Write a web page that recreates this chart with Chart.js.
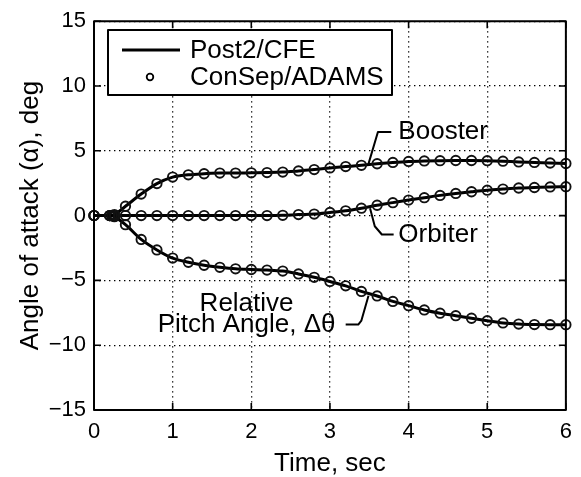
<!DOCTYPE html>
<html>
<head>
<meta charset="utf-8">
<script src="https://cdn.jsdelivr.net/npm/chart.js@4.4.0/dist/chart.umd.min.js"></script>
<style>
html,body{margin:0;padding:0;background:#fff;}
canvas{display:block;}
</style>
</head>
<body>
<canvas id="c" width="581" height="477"></canvas>
<script>
// ---- data ----
const timeSec = [0, 0.2, 0.23, 0.26, 0.4, 0.6, 0.8, 1.0, 1.2, 1.4, 1.6, 1.8, 2.0, 2.2, 2.4, 2.6, 2.8, 3.0, 3.2, 3.4, 3.6, 3.8, 4.0, 4.2, 4.4, 4.6, 4.8, 5.0, 5.2, 5.4, 5.6, 5.8, 6.0];
const booster = [0, 0, 0.02, 0.08, 0.72, 1.66, 2.47, 2.97, 3.15, 3.23, 3.28, 3.28, 3.30, 3.32, 3.36, 3.45, 3.55, 3.68, 3.78, 3.88, 4.0, 4.1, 4.18, 4.22, 4.24, 4.25, 4.25, 4.24, 4.2, 4.14, 4.1, 4.06, 4.02];
const orbiter = [0, 0, 0, 0, 0, 0, 0, 0, 0, 0, 0, 0, 0, 0, 0.02, 0.08, 0.12, 0.24, 0.37, 0.57, 0.8, 1.0, 1.2, 1.38, 1.56, 1.71, 1.84, 1.96, 2.05, 2.13, 2.17, 2.21, 2.23];
const relPitch = [0, 0, -0.02, -0.08, -0.70, -1.84, -2.65, -3.28, -3.6, -3.83, -3.99, -4.11, -4.16, -4.2, -4.28, -4.5, -4.76, -5.08, -5.42, -5.85, -6.2, -6.62, -6.95, -7.28, -7.53, -7.72, -7.92, -8.11, -8.28, -8.37, -8.41, -8.42, -8.42];
const seriesNames = ['Booster', 'Orbiter', 'Relative Pitch Angle, \u0394\u03b8'];
const legendLabels = ['Post2/CFE', 'ConSep/ADAMS'];
const xTicks = [0, 1, 2, 3, 4, 5, 6];
const yTicks = [-15, -10, -5, 0, 5, 10, 15];
const xTitle = 'Time, sec';
const yTitle = 'Angle of attack (\u03b1), deg';

// annotation labels (anchored in data coordinates)
const annotations = [
  { lines: [{ text: 'Booster', x: 3.87, y: 6.5 }], align: 'left',
    leader: [[3.49, 3.99], [3.61, 6.45], [3.78, 6.45]] },
  { lines: [{ text: 'Orbiter', x: 3.87, y: -1.46 }], align: 'left',
    leader: [[3.51, 0.57], [3.57, -0.82], [3.66, -1.46], [3.81, -1.46]] },
  { lines: [{ text: 'Relative', x: 1.94, y: -6.8 }, { text: 'Pitch Angle, \u0394\u03b8', x: 1.94, y: -8.41 }], align: 'center',
    leader: [[3.49, -6.19], [3.40, -8.1], [3.36, -8.41], [3.2, -8.41]] }
];

const FONT = "'Liberation Sans', Arial, Helvetica, sans-serif";
Chart.defaults.font.family = FONT;
Chart.defaults.color = '#000';

const toXY = (vals) => timeSec.map((t, i) => ({ x: t, y: vals[i] }));
const allSeries = [booster, orbiter, relPitch];

const datasets = [];
allSeries.forEach((vals, k) => {
  datasets.push({
    label: legendLabels[0] + ' ' + seriesNames[k],
    data: toXY(vals),
    showLine: true,
    borderColor: '#000',
    borderWidth: 3,
    pointRadius: 0,
    cubicInterpolationMode: 'monotone',
    fill: false,
    order: 2
  });
  datasets.push({
    label: legendLabels[1] + ' ' + seriesNames[k],
    data: toXY(vals),
    showLine: false,
    pointStyle: 'circle',
    pointRadius: 4.7,
    pointBorderWidth: 1.9,
    pointBorderColor: '#111',
    pointBackgroundColor: 'rgba(0,0,0,0)',
    clip: false,
    order: 1
  });
});

const decorPlugin = {
  id: 'decor',
  afterDraw(chart) {
    const { ctx, chartArea: a, scales } = chart;
    const xs = scales.x, ys = scales.y;
    ctx.save();
    // annotations
    ctx.strokeStyle = '#000';
    ctx.fillStyle = '#000';
    ctx.lineWidth = 2;
    ctx.lineJoin = 'round';
    ctx.font = '26px ' + FONT;
    ctx.textBaseline = 'middle';
    annotations.forEach(an => {
      ctx.beginPath();
      an.leader.forEach((p, i) => {
        const px = xs.getPixelForValue(p[0]), py = ys.getPixelForValue(p[1]);
        if (i === 0) ctx.moveTo(px, py); else ctx.lineTo(px, py);
      });
      ctx.stroke();
      ctx.textAlign = an.align;
      an.lines.forEach(l => {
        ctx.fillText(l.text, xs.getPixelForValue(l.x), ys.getPixelForValue(l.y));
      });
    });
    // frame
    ctx.lineWidth = 2;
    ctx.strokeRect(a.left, a.top, a.right - a.left, a.bottom - a.top);
    // inward ticks
    const tl = 7;
    ctx.lineWidth = 1.6;
    ctx.beginPath();
    xTicks.forEach(v => {
      const px = xs.getPixelForValue(v);
      ctx.moveTo(px, a.bottom); ctx.lineTo(px, a.bottom - tl);
      ctx.moveTo(px, a.top); ctx.lineTo(px, a.top + tl);
    });
    yTicks.forEach(v => {
      const py = ys.getPixelForValue(v);
      ctx.moveTo(a.left, py); ctx.lineTo(a.left + tl, py);
      ctx.moveTo(a.right, py); ctx.lineTo(a.right - tl, py);
    });
    ctx.stroke();
    // legend
    const bx = 108, by = 30, bw = 284, bh = 65;
    ctx.fillStyle = '#fff';
    ctx.fillRect(bx, by, bw, bh);
    ctx.lineWidth = 2;
    ctx.strokeStyle = '#000';
    ctx.strokeRect(bx, by, bw, bh);
    ctx.lineWidth = 3;
    ctx.beginPath();
    ctx.moveTo(122, 50); ctx.lineTo(180, 50);
    ctx.stroke();
    ctx.lineWidth = 1.8;
    ctx.beginPath();
    ctx.arc(150, 77, 3.3, 0, Math.PI * 2);
    ctx.stroke();
    ctx.fillStyle = '#000';
    ctx.textAlign = 'left';
    ctx.textBaseline = 'middle';
    ctx.font = '26px ' + FONT;
    ctx.fillText(legendLabels[0], 190, 51);
    ctx.fillText(legendLabels[1], 190, 78);
    ctx.restore();
  }
};

new Chart(document.getElementById('c'), {
  type: 'scatter',
  data: { datasets },
  options: {
    responsive: false,
    animation: false,
    devicePixelRatio: 1,
    layout: { padding: { left: 0, right: 13, top: 15, bottom: 0 } },
    plugins: { legend: { display: false }, tooltip: { enabled: false } },
    scales: {
      x: {
        type: 'linear', min: 0, max: 6,
        afterBuildTicks: (s) => { s.ticks = xTicks.map(v => ({ value: v })); },
        ticks: { padding: 9, font: { size: 22 }, color: '#000', maxRotation: 0,
                 callback: (v) => String(v) },
        grid: { color: '#000', lineWidth: 1.3, drawTicks: false },
        border: { display: false, dash: [1.4, 3.6] },
        title: { display: true, text: xTitle, color: '#000', font: { size: 26, lineHeight: 1 }, padding: { top: 0, bottom: 0 } },
        afterFit: (s) => { s.height = 67; }
      },
      y: {
        type: 'linear', min: -15, max: 15,
        afterBuildTicks: (s) => { s.ticks = yTicks.map(v => ({ value: v })); },
        ticks: { padding: 8, font: { size: 22 }, color: '#000',
                 callback: (v) => (v < 0 ? '\u2212' + Math.abs(v) : String(v)) },
        grid: { color: '#000', lineWidth: 1.3, drawTicks: false },
        border: { display: false, dash: [1.4, 3.6] },
        title: { display: true, text: yTitle, color: '#000', font: { size: 26 }, padding: { top: 15, bottom: 0 } },
        afterFit: (s) => { s.width = 94; }
      }
    }
  },
  plugins: [decorPlugin]
});
</script>
</body>
</html>
